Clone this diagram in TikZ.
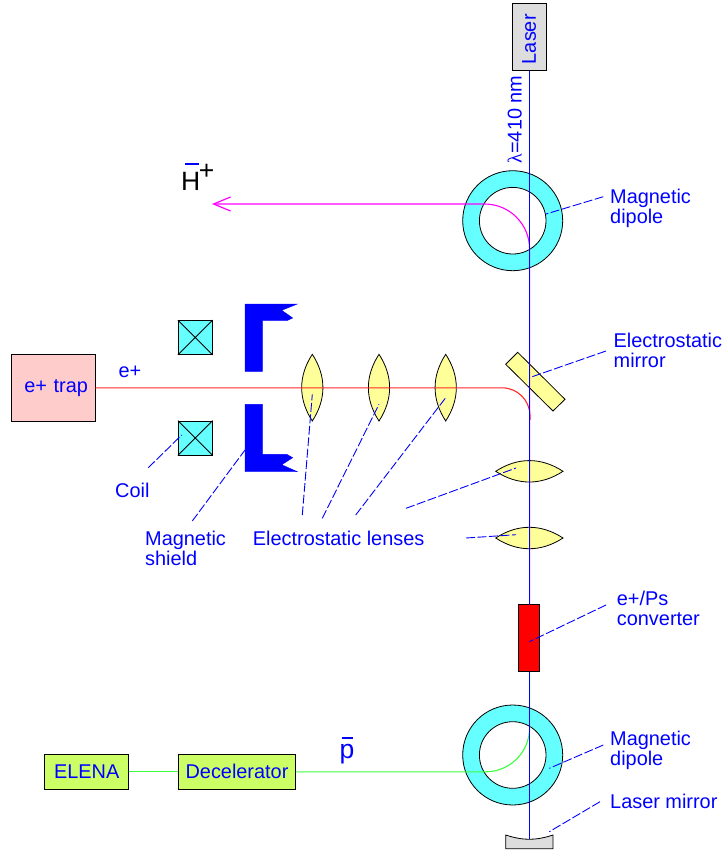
\documentclass[tikz,border=0pt]{standalone}
\usepackage{fontspec}
\setmainfont{Liberation Sans}
\newfontfamily\lamfont{Liberation Serif}
\usepackage{tikz}
\usetikzlibrary{arrows.meta, shapes.geometric}
\definecolor{ringcyan}{RGB}{102, 255, 255}
\definecolor{lensyellow}{RGB}{255, 255, 153}
\definecolor{trappink}{RGB}{255, 204, 204}
\definecolor{boxgreen}{RGB}{204, 255, 102}
\definecolor{lasergray}{RGB}{221, 221, 221}
\definecolor{beamred}{RGB}{255, 40, 40}
\definecolor{beamgreen}{RGB}{60, 255, 60}
\definecolor{beammagenta}{RGB}{255, 0, 255}

\begin{document}
\begin{tikzpicture}[
    x=1pt, y=-1pt,
    partbox/.style={rectangle, draw=black, thick, inner sep=0pt, text=blue, font=\fontsize{19.9}{20}\selectfont},
    ringout/.style={circle, draw=black, thick, fill=ringcyan, inner sep=0pt, minimum size=100pt},
    ringin/.style={circle, draw=black, thick, fill=white, inner sep=0pt, minimum size=66.6pt},
    coilbox/.style={rectangle, draw=black, thick, fill=ringcyan, inner sep=0pt, minimum size=34pt},
    lensbody/.style={draw=black, thick, fill=lensyellow, line join=miter},
    shieldbody/.style={fill=blue, draw=blue, line width=0.4pt},
    beam/.style={line width=1.1pt},
    leader/.style={blue, line width=0.9pt, dash pattern=on 9pt off 2.5pt},
    lbl/.style={text=blue, inner sep=0pt, align=left, font=\fontsize{19.9}{20}\selectfont}
]
    \useasboundingbox (0, 0) rectangle (723, 854);

    % Dipole rings
    \node[ringout] (ringA) at (512.7, 220.7) {};
    \node[ringin] (ringAin) at (512.7, 220.7) {};
    \node[ringout] (ringB) at (512.7, 755) {};
    \node[ringin] (ringBin) at (512.7, 755) {};

    % Coils
    \node[coilbox] (coilA) at (195.3, 337.5) {};
    \draw[thick] (coilA.north west) -- (coilA.south east) (coilA.north east) -- (coilA.south west);
    \node[coilbox] (coilB) at (195.3, 438) {};
    \draw[thick] (coilB.north west) -- (coilB.south east) (coilB.north east) -- (coilB.south west);

    % Magnetic shield
    \draw[shieldbody] (245, 304) -- (297.3, 304) -- (281.7, 310.3) -- (292.7, 318) -- (286.7, 320.7) -- (262.3, 320.7) -- (262.3, 371.3) -- (245, 371.3) -- cycle;
    \draw[shieldbody] (245, 404.3) -- (262.3, 404.3) -- (262.3, 454.3) -- (286.7, 454.3) -- (292.7, 457.7) -- (281.7, 464.7) -- (297.3, 471.7) -- (245, 471.7) -- cycle;

    % Lenses
    \draw[lensbody] (312.3, 354.3) to[bend left=33] (312.3, 421) to[bend left=33] (312.3, 354.3) -- cycle;
    \draw[lensbody] (379, 354.3) to[bend left=33] (379, 421) to[bend left=33] (379, 354.3) -- cycle;
    \draw[lensbody] (445.7, 354.3) to[bend left=33] (445.7, 421) to[bend left=33] (445.7, 354.3) -- cycle;
    \draw[lensbody] (495.7, 471.3) to[bend left=33] (563, 471.3) to[bend left=33] (495.7, 471.3) -- cycle;
    \draw[lensbody] (495.7, 538) to[bend left=33] (563, 538) to[bend left=33] (495.7, 538) -- cycle;

    % Electrostatic mirror
    \draw[lensbody] (517.7, 352.3) -- (505.7, 364.3) -- (553, 411) -- (565, 399.3) -- cycle;

    % Boxes
    \node[partbox, fill=lasergray, rotate=90, minimum width=67pt, minimum height=33.8pt] (laser) at (529.2, 37.2) {Laser\hspace*{4pt}};
    \node[partbox, fill=trappink, minimum width=83.3pt, minimum height=66.7pt, text width=83.3pt, align=right] (trap) at (53.3, 387.8) {e+ trap\hspace*{7pt}};
    \node[partbox, fill=boxgreen, minimum width=84pt, minimum height=34.3pt] (elena) at (86.7, 771.8) {ELENA};
    \node[partbox, fill=boxgreen, minimum width=117.4pt, minimum height=34.3pt] (decel) at (237, 771.8) {Decelerator};
    \node[partbox, fill=red, minimum width=20.7pt, minimum height=67pt] (conv) at (529.2, 638.2) {};
    \draw[thick, fill=lasergray] (505.7, 835) to[bend right=18] (553, 835) -- (553, 848.7) -- (505.7, 848.7) -- cycle;
    \coordinate (mirrorTop) at (529.2, 838.7);

    % Beams
    \coordinate (redEnd) at (530, 420);
    \coordinate (arrowEnd) at (212, 204);
    \draw[beam, beamred, rounded corners=28pt] (trap.east) -- (redEnd |- trap.east) -- (redEnd);
    \draw[beam, beammagenta, rounded corners=45pt, -{Straight Barb[length=17pt, width=14pt, line width=1.2pt]}] ([xshift=0.4pt]conv.north) -- ([xshift=0.4pt]conv.north |- arrowEnd) -- (arrowEnd);
    \draw[beam, beamgreen] (elena.east) -- (decel.west);
    \draw[beam, beamgreen, rounded corners=44pt] (decel.east) -- ([xshift=0.4pt]conv.south |- decel.east) -- ([xshift=0.4pt]conv.south);
    \draw[blue, line width=1.1pt] (laser.west) -- (conv.north);
    \draw[blue, line width=1.1pt] (conv.south) -- (mirrorTop);

    % Labels
    \node[lbl, rotate=90, anchor=base west] (lambda) at (521.7, 163.5) {{\lamfont λ}=410 nm};
    \node[lbl, anchor=base west] (dipoleA) at (610, 223.3) {Magnetic\\dipole};
    \node[lbl, anchor=base west] (elmirror) at (613.5, 367.7) {Electrostatic\\mirror};
    \node[lbl, anchor=base west] (ecoil) at (118.3, 377.3) {e+};
    \node[lbl, anchor=base west] (coil) at (115, 497.3) {Coil};
    \node[lbl, anchor=base west] (shield) at (145, 565) {Magnetic\\shield};
    \node[lbl, anchor=base west] (lenses) at (252.7, 545) {Electrostatic lenses};
    \node[lbl, anchor=base west] (econv) at (616.7, 625) {e+/Ps\\converter};
    \node[lbl, anchor=base west] (dipoleB) at (610, 765) {Magnetic\\dipole};
    \node[lbl, anchor=base west] (lasermirror) at (610, 808.3) {Laser mirror};
    \node[anchor=base west, inner sep=0pt, font=\fontsize{26.5}{26.5}\selectfont] (hminus) at (181, 190.7) {H};
    \node[anchor=base west, inner sep=0pt, font=\fontsize{26.5}{26.5}\selectfont] (hplus) at (198.6, 179.3) {+};
    \coordinate (hbarA) at (185, 164);
    \coordinate (hbarB) at (199, 164);
    \draw[blue, line width=1.3pt] (hbarA) -- (hbarB);
    \node[anchor=base west, inner sep=0pt, text=blue, font=\fontsize{26.5}{26.5}\selectfont] (pbar) at (339.5, 758.5) {p};
    \coordinate (pbarA) at (341.7, 738);
    \coordinate (pbarB) at (353.2, 738);
    \draw[blue, line width=2.6pt] (pbarA) -- (pbarB);

    % Leaders
    \coordinate (dipA1) at (603.3, 196.7);
    \coordinate (dipA2) at (546, 214);
    \draw[leader] (dipA1) -- (dipA2);
    \coordinate (mir1) at (606, 351);
    \coordinate (mir2) at (529.3, 377.7);
    \draw[leader] (mir1) -- (mir2);
    \coordinate (lens1a) at (302.3, 515);
    \coordinate (lens1b) at (312.3, 394.3);
    \draw[leader] (lens1a) -- (lens1b);
    \coordinate (lens2a) at (322.3, 518.3);
    \coordinate (lens2b) at (379, 404.3);
    \draw[leader] (lens2a) -- (lens2b);
    \coordinate (lens3a) at (355.7, 515);
    \coordinate (lens3b) at (445.7, 397.7);
    \draw[leader] (lens3a) -- (lens3b);
    \coordinate (lens4a) at (406, 508.3);
    \coordinate (lens4b) at (516, 468);
    \draw[leader] (lens4a) -- (lens4b);
    \coordinate (lens5a) at (466, 538);
    \coordinate (lens5b) at (516, 534.7);
    \draw[leader] (lens5a) -- (lens5b);
    \coordinate (conv1) at (606, 605);
    \coordinate (conv2) at (529.3, 641.7);
    \draw[leader] (conv1) -- (conv2);
    \coordinate (dipB1) at (603.3, 745);
    \coordinate (dipB2) at (549.3, 768.3);
    \draw[leader] (dipB1) -- (dipB2);
    \coordinate (lm1) at (600, 801.7);
    \coordinate (lm2) at (549.3, 831.7);
    \draw[leader] (lm1) -- (lm2);
    \coordinate (coil1) at (148.3, 467.7);
    \coordinate (coil2) at (181.7, 435);
    \draw[leader] (coil1) -- (coil2);
    \coordinate (shd1) at (192.3, 521);
    \coordinate (shd2) at (245, 450);
    \draw[leader] (shd1) -- (shd2);
\end{tikzpicture}
\end{document}
